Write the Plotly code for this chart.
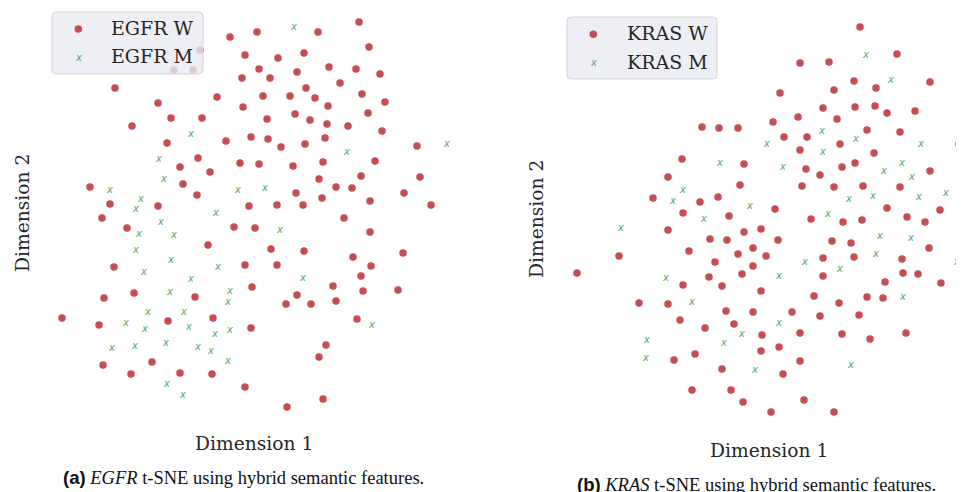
import plotly.graph_objects as go

# ---------------- data (t-SNE embedding) ----------------
# (Dimension 1, Dimension 2) pairs; Dimension 2 increases downward in these units
egfr_wild = [
    (230, 37), (115, 88), (217, 97), (158, 103), (171, 118), (202, 118), (132, 126),
    (226, 141), (167, 143), (198, 158), (180, 167), (210, 172), (183, 184), (197, 195),
    (90, 187), (110, 204), (158, 206), (240, 163), (200, 50), (174, 70), (193, 70),
    (257, 32), (245, 55), (278, 58), (259, 69), (242, 78), (270, 78), (263, 96),
    (243, 107), (267, 119), (251, 137), (268, 139), (259, 164), (249, 206), (277, 205),
    (359, 22), (318, 32), (369, 47), (304, 53), (329, 67), (356, 69), (297, 72),
    (380, 74), (340, 83), (306, 88), (290, 96), (315, 98), (362, 94), (385, 102),
    (328, 106), (295, 114), (310, 120), (327, 124), (348, 126), (368, 113), (382, 131),
    (281, 147), (305, 144), (325, 138), (417, 146), (293, 166), (323, 162), (375, 161),
    (319, 179), (361, 176), (420, 177), (336, 187), (352, 188), (296, 193), (404, 193),
    (303, 205), (322, 198), (370, 201), (431, 205),
    (102, 218), (127, 228), (234, 227), (208, 245), (114, 267), (134, 293), (104, 298),
    (195, 297), (62, 318), (99, 325), (168, 321), (213, 318), (103, 365), (152, 362),
    (131, 374), (180, 373), (212, 374),
    (344, 218), (255, 228), (370, 232), (271, 249), (304, 251), (403, 253), (353, 257),
    (245, 265), (277, 265), (371, 266), (361, 276), (252, 287), (333, 286), (363, 291),
    (398, 290), (297, 295), (286, 304), (311, 304), (336, 301), (357, 319), (251, 328),
    (326, 345), (319, 357), (245, 387), (323, 399), (287, 407),
]
egfr_mutant = [
    (191, 134), (159, 159), (164, 179), (110, 190), (141, 199), (238, 190), (136, 209),
    (265, 188), (294, 27), (347, 152), (447, 144), (216, 213), (161, 222), (139, 234),
    (174, 235), (280, 230), (136, 250), (171, 260), (144, 272), (218, 267), (191, 279),
    (170, 292), (230, 291), (228, 302), (148, 312), (184, 312), (126, 323), (145, 329),
    (189, 327), (215, 334), (230, 330), (112, 348), (135, 346), (166, 343), (198, 347),
    (211, 351), (228, 361), (167, 384), (183, 395), (303, 278), (372, 325),
]
kras_wild = [
    (702, 127), (719, 128), (738, 128), (682, 159), (668, 177), (740, 185), (653, 198),
    (700, 202), (718, 197),
    (860, 27), (897, 54), (800, 63), (829, 62), (854, 81), (930, 82), (780, 93),
    (834, 90), (876, 88), (823, 108), (855, 107), (875, 106), (887, 113), (915, 111),
    (798, 117), (837, 119), (773, 122), (784, 137), (807, 137), (867, 130), (900, 132),
    (800, 150), (840, 144), (874, 153), (959, 144), (744, 164), (806, 169), (820, 175),
    (842, 167), (855, 163), (930, 171), (802, 186), (834, 187), (863, 186), (900, 187),
    (775, 209), (887, 208), (940, 210), (963, 198),
    (683, 213), (729, 216), (668, 230), (710, 239), (727, 240), (744, 232), (689, 251),
    (619, 256), (738, 254), (753, 248), (577, 273), (715, 262), (753, 266), (709, 277),
    (742, 274), (683, 285), (722, 286), (639, 303), (668, 304), (726, 311), (753, 312),
    (680, 320), (705, 328), (734, 324), (695, 354), (674, 360), (722, 369), (692, 390),
    (731, 390), (743, 402),
    (811, 219), (843, 222), (862, 220), (907, 217), (925, 222), (962, 235), (761, 229),
    (778, 240), (832, 241), (851, 243), (766, 256), (823, 258), (854, 257), (902, 259),
    (929, 248), (823, 276), (903, 273), (918, 274), (885, 282), (941, 283), (761, 291),
    (814, 296), (867, 297), (883, 298), (839, 303), (792, 312), (820, 316), (859, 315),
    (762, 335), (800, 333), (842, 334), (870, 339), (906, 333), (761, 351), (779, 347),
    (800, 361), (783, 374), (804, 400), (771, 412), (834, 412),
]
kras_mutant = [
    (720, 163), (683, 190), (673, 201), (750, 206), (866, 55), (891, 80), (822, 131),
    (856, 139), (767, 144), (823, 152), (921, 144), (783, 167), (902, 163), (884, 171),
    (912, 177), (849, 199), (873, 196), (919, 197), (946, 193), (621, 228), (704, 219),
    (666, 278), (692, 302), (647, 340), (646, 358), (724, 343), (742, 334), (755, 370),
    (828, 214), (880, 236), (911, 238), (876, 254), (805, 262), (840, 269), (779, 276),
    (957, 262), (903, 297), (779, 323), (851, 365),
]
legend_labels_a = ["EGFR W", "EGFR M"]
legend_labels_b = ["KRAS W", "KRAS M"]
axis_x_title = "Dimension 1"
axis_y_title = "Dimension 2"
caption_a = ("(a)", "EGFR", " t-SNE using hybrid semantic features.")
caption_b = ("(b)", "KRAS", " t-SNE using hybrid semantic features.")

# ---------------- style / frame ----------------
VIEW_W, VIEW_H = 964, 492
OFF = 8                      # page body margin in the browser
W, H = VIEW_W - OFF, VIEW_H - OFF
RED = "#c44e52"
GREEN = "#55a868"
TXT = "#262626"
SERIF = "DejaVu Serif"
SPLIT = 486                  # screen x where the two panels meet

fig = go.Figure()


def add_panel(wild, mutant, xa, ya):
    fig.add_trace(go.Scatter(
        x=[p[0] for p in wild], y=[p[1] for p in wild], mode="markers",
        marker=dict(color=RED, size=7.5, line=dict(width=0)),
        xaxis=xa, yaxis=ya, showlegend=False, hoverinfo="skip", cliponaxis=False))
    fig.add_trace(go.Scatter(
        x=[p[0] for p in mutant], y=[p[1] for p in mutant], mode="text",
        text=["x"] * len(mutant), textposition="middle center",
        textfont=dict(family="DejaVu Sans", size=10, color=GREEN, style="italic"),
        xaxis=xa, yaxis=ya, showlegend=False, hoverinfo="skip", cliponaxis=False))


add_panel(egfr_wild, egfr_mutant, "x", "y")
add_panel(kras_wild, kras_mutant, "x2", "y2")

frac = (SPLIT - OFF) / W
hidden = dict(visible=False, showgrid=False, zeroline=False, fixedrange=True)
fig.update_layout(
    width=W, height=H, margin=dict(l=0, r=0, t=0, b=0),
    paper_bgcolor="white", plot_bgcolor="white",
    xaxis=dict(domain=[0, frac], range=[OFF, SPLIT], **hidden),
    yaxis=dict(domain=[0, 1], range=[VIEW_H, OFF], **hidden),
    xaxis2=dict(domain=[frac, 1], range=[SPLIT, VIEW_W], **hidden),
    yaxis2=dict(domain=[0, 1], range=[VIEW_H, OFF], anchor="x2", **hidden),
)


def rounded_rect(x0, y0, x1, y1, r=4):
    return (f"M{x0 + r},{y0} L{x1 - r},{y0} Q{x1},{y0} {x1},{y0 + r} "
            f"L{x1},{y1 - r} Q{x1},{y1} {x1 - r},{y1} L{x0 + r},{y1} "
            f"Q{x0},{y1} {x0},{y1 - r} L{x0},{y0 + r} Q{x0},{y0} {x0 + r},{y0} Z")


def px(x):
    return (x - OFF) / W


def py(y):
    return 1 - (y - OFF) / H


def add_legend(box, xa, ya, labels, mx, my1, my2, tx):
    fig.add_shape(type="path", path=rounded_rect(*box), xref=xa, yref=ya,
                  fillcolor="rgba(234,234,242,0.8)",
                  line=dict(color="rgba(204,204,204,0.8)", width=1), layer="above")
    r = 3.75
    fig.add_shape(type="circle", xref=xa, yref=ya, x0=mx - r, x1=mx + r,
                  y0=my1 - r, y1=my1 + r, fillcolor=RED, line=dict(width=0), layer="above")
    fig.add_annotation(x=px(mx), y=py(my2), xref="paper", yref="paper", text="x",
                       showarrow=False, xanchor="center", yanchor="middle",
                       font=dict(family="DejaVu Sans", size=10, color=GREEN, style="italic"))
    for lab, yy in zip(labels, (my1 - 1, my2 - 1)):
        fig.add_annotation(x=px(tx), y=py(yy), xref="paper", yref="paper", text=lab,
                           showarrow=False, xanchor="left", yanchor="middle",
                           font=dict(family=SERIF, size=19, color=TXT))


add_legend((52, 12, 203, 74), "x", "y", legend_labels_a, 78.3, 29, 57, 109)
add_legend((567, 17, 717, 79), "x2", "y2", legend_labels_b, 593.3, 34.3, 62.7, 625)

# axis titles
for cx, cy in ((254, 443), (769, 450)):
    fig.add_annotation(x=px(cx), y=py(cy), xref="paper", yref="paper", text=axis_x_title,
                       showarrow=False, xanchor="center", yanchor="middle",
                       font=dict(family=SERIF, size=18.7, color=TXT))
for cx, cy in ((22, 213), (537, 219)):
    fig.add_annotation(x=px(cx), y=py(cy), xref="paper", yref="paper", text=axis_y_title,
                       showarrow=False, xanchor="center", yanchor="middle", textangle=-90,
                       font=dict(family=SERIF, size=18.7, color=TXT))

# captions
for cap, cx, cy in ((caption_a, 243, 477), (caption_b, 756, 484)):
    txt = (f'<span style="font-family:Liberation Sans"><b>{cap[0]}</b></span> '
           f'<i>{cap[1]}</i>{cap[2]}')
    fig.add_annotation(x=px(cx), y=py(cy), xref="paper", yref="paper", text=txt,
                       showarrow=False, xanchor="center", yanchor="middle",
                       font=dict(family="Liberation Serif", size=18.5, color="#111111"))

fig.write_html("out.html")
